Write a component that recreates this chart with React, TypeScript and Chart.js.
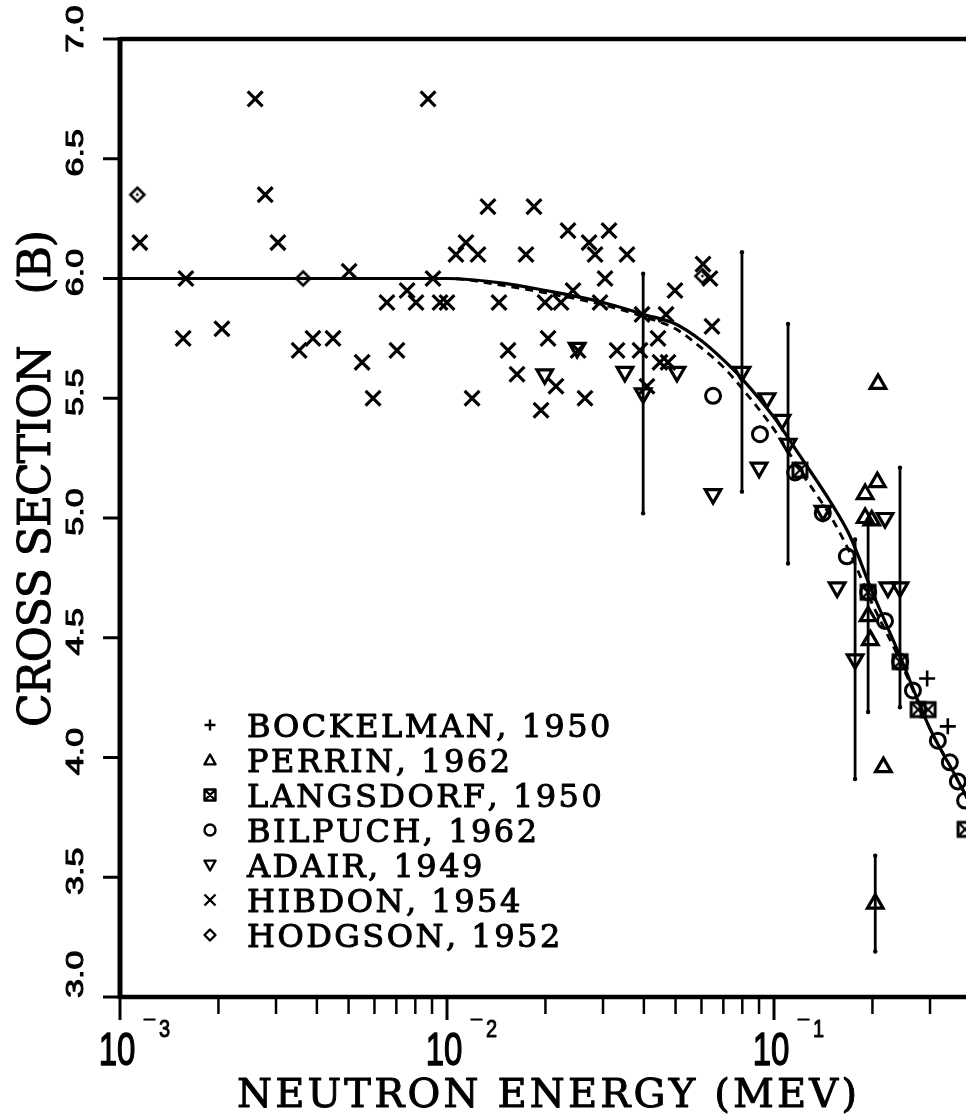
import React, { useEffect, useRef } from 'react';
import { Chart, registerables } from 'chart.js';

Chart.register(...registerables);

// ---------------- data ----------------
const bockelmanE = [0.294, 0.340];
const bockelmanSigma = [4.33, 4.13];

const perrinE = [0.208, 0.207, 0.190, 0.190, 0.199, 0.194, 0.197, 0.216, 0.204];
const perrinSigma = [5.56, 5.15, 5.10, 5.00, 4.99, 4.59, 4.49, 3.96, 3.39];
const perrinErr = [0, 0, 0, 0, 0, 0.4, 0, 0, 0.2];

const langsdorfE = [0.120, 0.194, 0.243, 0.276, 0.296, 0.384];
const langsdorfSigma = [5.20, 4.69, 4.40, 4.20, 4.20, 3.70];

const bilpuchE = [0.0651, 0.0906, 0.116, 0.141, 0.167, 0.194, 0.2185, 0.243, 0.266, 0.317, 0.345, 0.365, 0.384];
const bilpuchSigma = [5.51, 5.35, 5.19, 5.02, 4.84, 4.69, 4.57, 4.40, 4.28, 4.07, 3.98, 3.90, 3.82];

const adairE = [0.0199, 0.025, 0.035, 0.0398, 0.0505, 0.0651, 0.0798, 0.090, 0.0952, 0.1058, 0.1104, 0.1412, 0.156, 0.177, 0.2185, 0.223, 0.2428];
const adairSigma = [5.60, 5.71, 5.61, 5.52, 5.61, 5.10, 5.61, 5.21, 5.50, 5.41, 5.31, 5.03, 4.71, 4.41, 5.00, 4.71, 4.71];
const adairErr = [0, 0, 0, 0.5, 0, 0, 0.5, 0, 0, 0, 0.5, 0, 0, 0.5, 0, 0, 0.5];

const hibdonE = [
  0.00115, 0.00156, 0.00159, 0.00205, 0.00259, 0.00278, 0.00304, 0.00353, 0.00389, 0.00448,
  0.00502, 0.00550, 0.00594, 0.00655, 0.00703, 0.00755, 0.00804, 0.00875, 0.00906, 0.00952,
  0.0100, 0.01065, 0.01143, 0.01193, 0.01244, 0.01334, 0.01442, 0.01537, 0.01637, 0.01744,
  0.01845, 0.01939, 0.01994, 0.02037, 0.02154, 0.02232, 0.02344, 0.02428, 0.02516, 0.02642,
  0.02719, 0.02836, 0.02937, 0.03042, 0.03129, 0.03311, 0.03552, 0.03892, 0.03947, 0.04088,
  0.04418, 0.0448, 0.04675, 0.04741, 0.04979, 0.06066, 0.06371, 0.06461,
];
const hibdonSigma = [
  6.15, 5.75, 6.00, 5.79, 6.75, 6.35, 6.15, 5.70, 5.75, 5.75,
  6.03, 5.65, 5.50, 5.90, 5.70, 5.95, 5.90, 6.75, 6.00, 5.90,
  5.90, 6.10, 6.15, 5.50, 6.10, 6.30, 5.90, 5.70, 5.60, 6.10,
  6.30, 5.45, 5.90, 5.75, 5.55, 5.90, 6.20, 5.95, 5.70, 5.50,
  6.15, 6.10, 5.90, 6.00, 6.20, 5.70, 6.10, 5.70, 5.85, 5.55,
  5.75, 5.65, 5.85, 5.65, 5.95, 6.06, 6.00, 5.80,
];

const hodgsonE = [0.00113, 0.00363, 0.0604];
const hodgsonSigma = [6.35, 6.00, 6.01];

const fitE = [0.001, 0.01, 0.015, 0.02, 0.03, 0.04, 0.05, 0.06, 0.07, 0.08, 0.1, 0.12, 0.15, 0.17, 0.2, 0.24, 0.3, 0.36, 0.4, 0.5];
const fitSolid = [6.0, 6.0, 5.98, 5.95, 5.90, 5.85, 5.81, 5.74, 5.66, 5.58, 5.42, 5.26, 5.06, 4.93, 4.69, 4.44, 4.12, 3.92, 3.80, 3.55];
const fitDashed = [6.0, 6.0, 5.97, 5.94, 5.89, 5.84, 5.79, 5.71, 5.63, 5.54, 5.37, 5.20, 5.00, 4.86, 4.64, 4.42, 4.12, 3.92, 3.80, 3.55];

const legendLabels = [
  'BOCKELMAN, 1950',
  'PERRIN, 1962',
  'LANGSDORF, 1950',
  'BILPUCH, 1962',
  'ADAIR, 1949',
  'HIBDON, 1954',
  'HODGSON, 1952',
];
const legendMarkers = ['plus', 'tri', 'boxx', 'circle', 'tridown', 'x', 'diamond'];

const yTickValues = [3.0, 3.5, 4.0, 4.5, 5.0, 5.5, 6.0, 6.5, 7.0];
const yTickLabels = ['3.0', '3.5', '4.0', '4.5', '5.0', '5.5', '6.0', '6.5', '7.0'];
const xMajorValues = [0.001, 0.01, 0.1, 1];
const xMajorBases = ['10', '10', '10', '10'];
const xMajorExponents = ['\u00AF3', '\u00AF2', '\u00AF1', '0'];
const xMinorMultipliers = [2, 3, 4, 5, 6, 7, 8, 9];

const xTitle = 'NEUTRON ENERGY (MEV)';
const yTitle = 'CROSS SECTION    (B)';

// ---------------- helpers ----------------
const pts = (xs: number[], ys: number[]) => xs.map((x, i) => ({ x, y: ys[i] }));

function makeBoxX(): HTMLCanvasElement {
  const c = document.createElement('canvas');
  c.width = 20; c.height = 20;
  const g = c.getContext('2d')!;
  g.strokeStyle = '#000';
  g.lineWidth = 3;
  g.strokeRect(3, 3, 14, 14);
  g.lineWidth = 2.4;
  g.beginPath();
  g.moveTo(4.5, 4.5); g.lineTo(15.5, 15.5);
  g.moveTo(15.5, 4.5); g.lineTo(4.5, 15.5);
  g.stroke();
  return c;
}

function makeDiamondDot(): HTMLCanvasElement {
  const c = document.createElement('canvas');
  c.width = 20; c.height = 20;
  const g = c.getContext('2d')!;
  g.strokeStyle = '#000';
  g.fillStyle = '#000';
  g.lineWidth = 2.6;
  g.beginPath();
  g.moveTo(10, 3); g.lineTo(17, 10); g.lineTo(10, 17); g.lineTo(3, 10); g.closePath();
  g.stroke();
  g.beginPath(); g.arc(10, 10, 1.4, 0, Math.PI * 2); g.fill();
  return c;
}

function drawMarker(ctx: CanvasRenderingContext2D, kind: string, x: number, y: number) {
  ctx.save();
  ctx.strokeStyle = '#000';
  ctx.lineWidth = 2.4;
  ctx.beginPath();
  const r = 5.5;
  switch (kind) {
    case 'plus':
      ctx.moveTo(x - r, y); ctx.lineTo(x + r, y);
      ctx.moveTo(x, y - r); ctx.lineTo(x, y + r);
      break;
    case 'tri':
      ctx.moveTo(x, y - r); ctx.lineTo(x + r, y + r * 0.8); ctx.lineTo(x - r, y + r * 0.8); ctx.closePath();
      break;
    case 'tridown':
      ctx.moveTo(x, y + r); ctx.lineTo(x + r, y - r * 0.8); ctx.lineTo(x - r, y - r * 0.8); ctx.closePath();
      break;
    case 'boxx':
      ctx.rect(x - r, y - r, 2 * r, 2 * r);
      ctx.moveTo(x - r, y - r); ctx.lineTo(x + r, y + r);
      ctx.moveTo(x + r, y - r); ctx.lineTo(x - r, y + r);
      break;
    case 'circle':
      ctx.arc(x, y, r, 0, Math.PI * 2);
      break;
    case 'x':
      ctx.moveTo(x - r, y - r); ctx.lineTo(x + r, y + r);
      ctx.moveTo(x + r, y - r); ctx.lineTo(x - r, y + r);
      break;
    case 'diamond':
      ctx.moveTo(x, y - r); ctx.lineTo(x + r, y); ctx.lineTo(x, y + r); ctx.lineTo(x - r, y); ctx.closePath();
      break;
  }
  ctx.stroke();
  ctx.restore();
}

function charsWidth(ctx: CanvasRenderingContext2D, text: string) {
  let w = 0;
  for (const ch of text) w += ctx.measureText(ch).width;
  return w;
}

// draws text char by char with extra spacing; a thin stroke thickens the glyphs like the scanned original
function drawSpaced(ctx: CanvasRenderingContext2D, text: string, x: number, y: number, spacing: number, weight = 0.9) {
  let cx = x;
  ctx.textAlign = 'left';
  ctx.lineWidth = weight;
  ctx.lineJoin = 'round';
  for (const ch of text) {
    ctx.fillText(ch, cx, y);
    if (weight > 0) ctx.strokeText(ch, cx, y);
    cx += ctx.measureText(ch).width + spacing;
  }
}

// ---------------- plugins ----------------
const errorBarPlugin = {
  id: 'errorBars',
  beforeDatasetsDraw(chart: any) {
    const ctx = chart.ctx as CanvasRenderingContext2D;
    const xs = chart.scales.x;
    const ys = chart.scales.y;
    ctx.save();
    ctx.strokeStyle = '#000';
    ctx.fillStyle = '#000';
    ctx.lineWidth = 2.8;
    chart.data.datasets.forEach((ds: any) => {
      if (!ds.errors) return;
      ds.data.forEach((p: any, i: number) => {
        const e = ds.errors[i];
        if (!e) return;
        const px = xs.getPixelForValue(p.x);
        const y1 = ys.getPixelForValue(p.y + e);
        const y2 = ys.getPixelForValue(p.y - e);
        ctx.beginPath();
        ctx.moveTo(px, y1);
        ctx.lineTo(px, y2);
        ctx.stroke();
        ctx.beginPath(); ctx.arc(px, y1, 2.2, 0, Math.PI * 2); ctx.fill();
        ctx.beginPath(); ctx.arc(px, y2, 2.2, 0, Math.PI * 2); ctx.fill();
      });
    });
    ctx.restore();
  },
};

const framePlugin = {
  id: 'frame',
  afterDraw(chart: any) {
    const ctx = chart.ctx as CanvasRenderingContext2D;
    const { left, right, top, bottom } = chart.chartArea;
    const xs = chart.scales.x;
    const ys = chart.scales.y;
    ctx.save();
    ctx.strokeStyle = '#000';
    ctx.fillStyle = '#000';
    ctx.lineCap = 'butt';

    // spines
    ctx.lineWidth = 4.5;
    ctx.beginPath();
    ctx.moveTo(left, top); ctx.lineTo(right, top);
    ctx.moveTo(left, bottom); ctx.lineTo(right, bottom);
    ctx.stroke();
    ctx.lineWidth = 5;
    ctx.beginPath();
    ctx.moveTo(left, top - 2); ctx.lineTo(left, bottom + 2);
    ctx.moveTo(right, top - 2); ctx.lineTo(right, bottom + 2);
    ctx.stroke();

    // y ticks
    ctx.lineWidth = 3;
    yTickValues.forEach((v) => {
      const py = ys.getPixelForValue(v);
      ctx.beginPath();
      ctx.moveTo(left - 17, py); ctx.lineTo(left, py);
      ctx.stroke();
    });

    // x ticks
    xMajorValues.forEach((v, i) => {
      const px = xs.getPixelForValue(v);
      ctx.lineWidth = 3;
      ctx.beginPath(); ctx.moveTo(px, bottom); ctx.lineTo(px, bottom + 23); ctx.stroke();
      if (i < xMajorValues.length - 1) {
        ctx.lineWidth = 2.5;
        xMinorMultipliers.forEach((m) => {
          const mx = xs.getPixelForValue(v * m);
          ctx.beginPath(); ctx.moveTo(mx, bottom); ctx.lineTo(mx, bottom + 17); ctx.stroke();
        });
      }
    });

    // y tick labels (rotated)
    ctx.font = '24px "Liberation Sans", Arial, sans-serif';
    ctx.textBaseline = 'alphabetic';
    yTickLabels.forEach((lab, i) => {
      const py = ys.getPixelForValue(yTickValues[i]);
      ctx.save();
      const last = i === yTickLabels.length - 1;
      const w = ctx.measureText(lab).width * 1.42;
      // start position along the axis (text runs upward)
      const startY = i === 0 ? py + 1 : py + (last ? -10 : -6) + w / 2;
      ctx.translate(left - 37, startY);
      ctx.rotate(-Math.PI / 2);
      ctx.scale(1.42, 1);
      drawSpaced(ctx, lab, 0, 0, 0, 1.0);
      ctx.restore();
    });

    // x tick labels
    xMajorValues.forEach((v, i) => {
      const px = xs.getPixelForValue(v);
      ctx.save();
      ctx.font = '33px "Liberation Sans", Arial, sans-serif';
      const bw = ctx.measureText(xMajorBases[i]).width;
      ctx.translate(px - 3 - bw / 2, bottom + 68);
      ctx.scale(1, 1.41);
      drawSpaced(ctx, xMajorBases[i], 0, 0, 0, 1.0);
      ctx.restore();
      ctx.save();
      ctx.font = '20px "Liberation Sans", Arial, sans-serif';
      ctx.translate(px + 24, bottom + 40);
      ctx.scale(1, 1.2);
      drawSpaced(ctx, xMajorExponents[i], 0, 0, 4, 0.8);
      ctx.restore();
    });

    // x title
    ctx.font = '40px "DejaVu Serif", "Liberation Serif", serif';
    {
      const sp = (620 - charsWidth(ctx, xTitle)) / (xTitle.length - 1);
      drawSpaced(ctx, xTitle, 237, 1107, sp, 1.0);
    }

    // y title (rotated)
    ctx.save();
    ctx.font = '44px "DejaVu Serif", "Liberation Serif", serif';
    ctx.translate(50, 727);
    ctx.rotate(-Math.PI / 2);
    {
      const sp = (497 - charsWidth(ctx, yTitle)) / (yTitle.length - 1);
      drawSpaced(ctx, yTitle, 0, 0, sp, 1.0);
    }
    ctx.restore();

    // legend
    ctx.font = '32px "DejaVu Serif", "Liberation Serif", serif';
    legendLabels.forEach((lab, i) => {
      const cy = 725 + i * 35;
      drawMarker(ctx, legendMarkers[i], 210, cy);
      drawSpaced(ctx, lab, 247, cy + 11.5, 2.5, 1.0);
    });

    ctx.restore();
  },
};

// ---------------- component ----------------
export default function App() {
  const ref = useRef<HTMLCanvasElement>(null);

  useEffect(() => {
    const canvas = ref.current!;
    const boxX = makeBoxX();
    const diaDot = makeDiamondDot();
    const hollow = 'rgba(0,0,0,0)';

    const chart = new Chart(canvas, {
      type: 'scatter',
      data: {
        datasets: [
          {
            label: 'fit solid',
            data: pts(fitE, fitSolid),
            showLine: true,
            borderColor: '#000',
            borderWidth: 3.2,
            pointRadius: 0,
            cubicInterpolationMode: 'monotone',
          } as any,
          {
            label: 'fit dashed',
            data: pts(fitE, fitDashed),
            showLine: true,
            borderColor: '#000',
            borderWidth: 2.8,
            borderDash: [8, 6],
            pointRadius: 0,
            cubicInterpolationMode: 'monotone',
          } as any,
          {
            label: 'HIBDON, 1954',
            data: pts(hibdonE, hibdonSigma),
            pointStyle: 'crossRot',
            pointRadius: 10.5,
            borderColor: '#000',
            backgroundColor: hollow,
            borderWidth: 3.2,
            pointBorderWidth: 3.2,
          } as any,
          {
            label: 'HODGSON, 1952',
            data: pts(hodgsonE, hodgsonSigma),
            pointStyle: diaDot,
            pointRadius: 8,
          } as any,
          {
            label: 'ADAIR, 1949',
            data: pts(adairE, adairSigma),
            errors: adairErr,
            pointStyle: 'triangle',
            rotation: 180,
            pointRadius: 9,
            borderColor: '#000',
            backgroundColor: hollow,
            borderWidth: 3.2,
            pointBorderWidth: 3.2,
          } as any,
          {
            label: 'BILPUCH, 1962',
            data: pts(bilpuchE, bilpuchSigma),
            pointStyle: 'circle',
            pointRadius: 7.5,
            borderColor: '#000',
            backgroundColor: hollow,
            borderWidth: 3,
            pointBorderWidth: 3,
          } as any,
          {
            label: 'LANGSDORF, 1950',
            data: pts(langsdorfE, langsdorfSigma),
            pointStyle: boxX,
            pointRadius: 9,
          } as any,
          {
            label: 'PERRIN, 1962',
            data: pts(perrinE, perrinSigma),
            errors: perrinErr,
            pointStyle: 'triangle',
            pointRadius: 9,
            borderColor: '#000',
            backgroundColor: hollow,
            borderWidth: 3.2,
            pointBorderWidth: 3.2,
          } as any,
          {
            label: 'BOCKELMAN, 1950',
            data: pts(bockelmanE, bockelmanSigma),
            pointStyle: 'cross',
            pointRadius: 8,
            borderColor: '#000',
            backgroundColor: hollow,
            borderWidth: 2.6,
            pointBorderWidth: 2.6,
          } as any,
        ],
      },
      options: {
        responsive: false,
        animation: false,
        devicePixelRatio: 1,
        layout: { padding: { left: 120, top: 39, right: 39, bottom: 120 } },
        plugins: {
          legend: { display: false },
          tooltip: { enabled: false },
        },
        scales: {
          x: { type: 'logarithmic', min: 0.001, max: 1, display: false },
          y: { type: 'linear', min: 3, max: 7, display: false },
        },
      },
      plugins: [errorBarPlugin, framePlugin],
    } as any);

    return () => chart.destroy();
  }, []);

  return (
    <div
      style={{
        position: 'fixed',
        left: 0,
        top: 0,
        width: 966,
        height: 1117,
        overflow: 'hidden',
        background: '#fff',
      }}
    >
      <canvas ref={ref} width={1140} height={1117} style={{ display: 'block', width: 1140, height: 1117 }} />
    </div>
  );
}
